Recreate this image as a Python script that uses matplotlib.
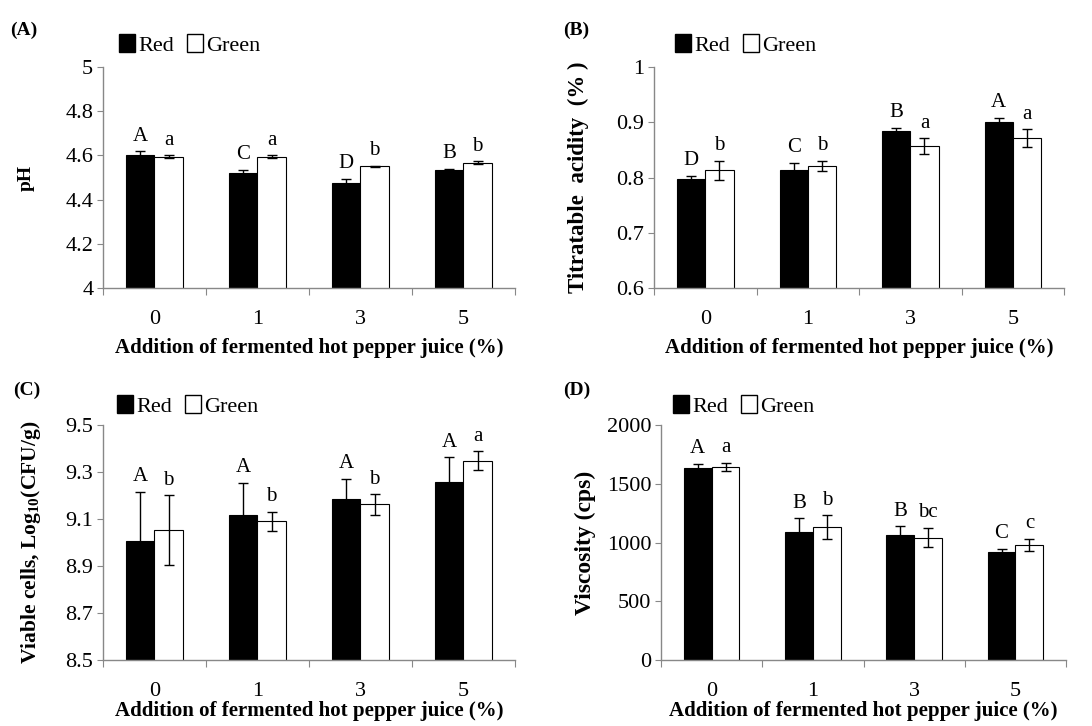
import numpy as np
import matplotlib.pyplot as plt
from matplotlib.patches import Patch

plt.rcParams['font.family'] = ['Liberation Serif', 'DejaVu Serif']
plt.rcParams['mathtext.fontset'] = 'custom'
plt.rcParams['mathtext.rm'] = 'Liberation Serif'
plt.rcParams['mathtext.bf'] = 'Liberation Serif:bold'

categories = ['0', '1', '3', '5']

# (A) pH
ph_red = [4.600, 4.520, 4.477, 4.534]
ph_red_err = [0.018, 0.015, 0.016, 0.005]
ph_green = [4.594, 4.594, 4.550, 4.567]
ph_green_err = [0.006, 0.006, 0.004, 0.007]
ph_red_let = ['A', 'C', 'D', 'B']
ph_green_let = ['a', 'a', 'b', 'b']

# (B) titratable acidity
ta_red = [0.797, 0.813, 0.884, 0.901]
ta_red_err = [0.006, 0.014, 0.006, 0.007]
ta_green = [0.813, 0.821, 0.857, 0.871]
ta_green_err = [0.017, 0.009, 0.014, 0.016]
ta_red_let = ['D', 'C', 'B', 'A']
ta_green_let = ['b', 'b', 'a', 'a']

# (C) viable cells
vc_red = [9.006, 9.117, 9.185, 9.256]
vc_red_err = [0.210, 0.138, 0.085, 0.106]
vc_green = [9.053, 9.091, 9.162, 9.348]
vc_green_err = [0.148, 0.040, 0.044, 0.040]
vc_red_let = ['A', 'A', 'A', 'A']
vc_green_let = ['b', 'b', 'b', 'a']

# (D) viscosity
vs_red = [1638, 1092, 1061, 917]
vs_red_err = [32, 113, 76, 31]
vs_green = [1646, 1131, 1041, 979]
vs_green_err = [34, 99, 82, 51]
vs_red_let = ['A', 'B', 'B', 'C']
vs_green_let = ['a', 'b', 'bc', 'c']


def panel(ax, red, red_err, green, green_err, rlet, glet, yticks, ylabel,
          ylsize, ylpad, tag, tagx, xlabelpad, legx, legy):
    x = np.arange(len(categories))
    w = 0.275
    ekw = dict(elinewidth=1, ecolor='black', capthick=1)
    ax.bar(x - w / 2, red, w, color='black', edgecolor='black', linewidth=0.8,
           yerr=red_err, capsize=3.5, error_kw=ekw)
    ax.bar(x + w / 2, green, w, color='white', edgecolor='black', linewidth=0.8,
           yerr=green_err, capsize=3.5, error_kw=ekw)
    for i in range(len(categories)):
        ax.annotate(rlet[i], (x[i] - w / 2, red[i] + red_err[i]), xytext=(0, 4),
                    textcoords='offset points', ha='center', va='bottom', fontsize=15)
        ax.annotate(glet[i], (x[i] + w / 2, green[i] + green_err[i]), xytext=(0, 4),
                    textcoords='offset points', ha='center', va='bottom', fontsize=15)
    ax.set_xlim(-0.5, len(categories) - 0.5)
    ax.set_ylim(yticks[0], yticks[-1])
    ax.set_yticks(yticks)
    ax.set_yticklabels(['{:g}'.format(t) for t in yticks], fontsize=16)
    ax.set_xticks(np.arange(-0.5, len(categories)), minor=False)
    ax.set_xticklabels([])
    ax.set_xticks(x, minor=True)
    ax.set_xticklabels(categories, minor=True, fontsize=16)
    ax.tick_params(axis='x', which='minor', length=0, pad=16)
    ax.tick_params(axis='x', which='major', length=5, color='#888888', direction='out')
    ax.tick_params(axis='y', length=4, color='#888888', direction='out', pad=3)
    for s in ['top', 'right']:
        ax.spines[s].set_visible(False)
    for s in ['left', 'bottom']:
        ax.spines[s].set_color('#888888')
        ax.spines[s].set_linewidth(1)
    ax.set_ylabel(ylabel, fontsize=ylsize, fontweight='bold', labelpad=ylpad)
    ax.set_xlabel('Addition of fermented hot pepper juice (%)', fontsize=15,
                  fontweight='bold', labelpad=xlabelpad)
    handles = [Patch(facecolor='black', edgecolor='black'),
               Patch(facecolor='white', edgecolor='black')]
    ax.legend(handles, ['Red', 'Green'], ncol=2, frameon=False, fontsize=16,
              loc='lower left', bbox_to_anchor=(legx, legy), handlelength=0.7,
              handleheight=0.85, handletextpad=0.15, columnspacing=0.6,
              borderaxespad=0, borderpad=0)
    ax.text(tagx, legy + 0.075, tag, transform=ax.transAxes, fontsize=14,
            fontweight='bold', ha='left', va='bottom')


fig = plt.figure(figsize=(10.92, 7.26), dpi=100)
axA = fig.add_axes([0.0943, 0.6033, 0.3773, 0.3044])
axB = fig.add_axes([0.5990, 0.6033, 0.3755, 0.3044])
axC = fig.add_axes([0.0943, 0.0909, 0.3773, 0.3237])
axD = fig.add_axes([0.6053, 0.0909, 0.3710, 0.3237])

panel(axA, ph_red, ph_red_err, ph_green, ph_green_err, ph_red_let, ph_green_let,
      [4.0, 4.2, 4.4, 4.6, 4.8, 5.0], 'pH', 14, 22, '(A)', -0.226, 6, 0.04, 1.05)
panel(axB, ta_red, ta_red_err, ta_green, ta_green_err, ta_red_let, ta_green_let,
      [0.6, 0.7, 0.8, 0.9, 1.0], 'Titratable  acidity  (% )', 16.5, 20, '(B)', -0.222, 6, 0.052, 1.05)
panel(axC, vc_red, vc_red_err, vc_green, vc_green_err, vc_red_let, vc_green_let,
      [8.5, 8.7, 8.9, 9.1, 9.3, 9.5], r'Viable cells, Log$_{\mathbf{10}}$(CFU/g)', 15.5, 16, '(C)', -0.218, 0, 0.035, 1.035)
panel(axD, vs_red, vs_red_err, vs_green, vs_green_err, vs_red_let, vs_green_let,
      [0, 500, 1000, 1500, 2000], 'Viscosity (cps)', 17, 8, '(D)', -0.242, 0, 0.03, 1.035)

fig.savefig('out.png', dpi=100)
